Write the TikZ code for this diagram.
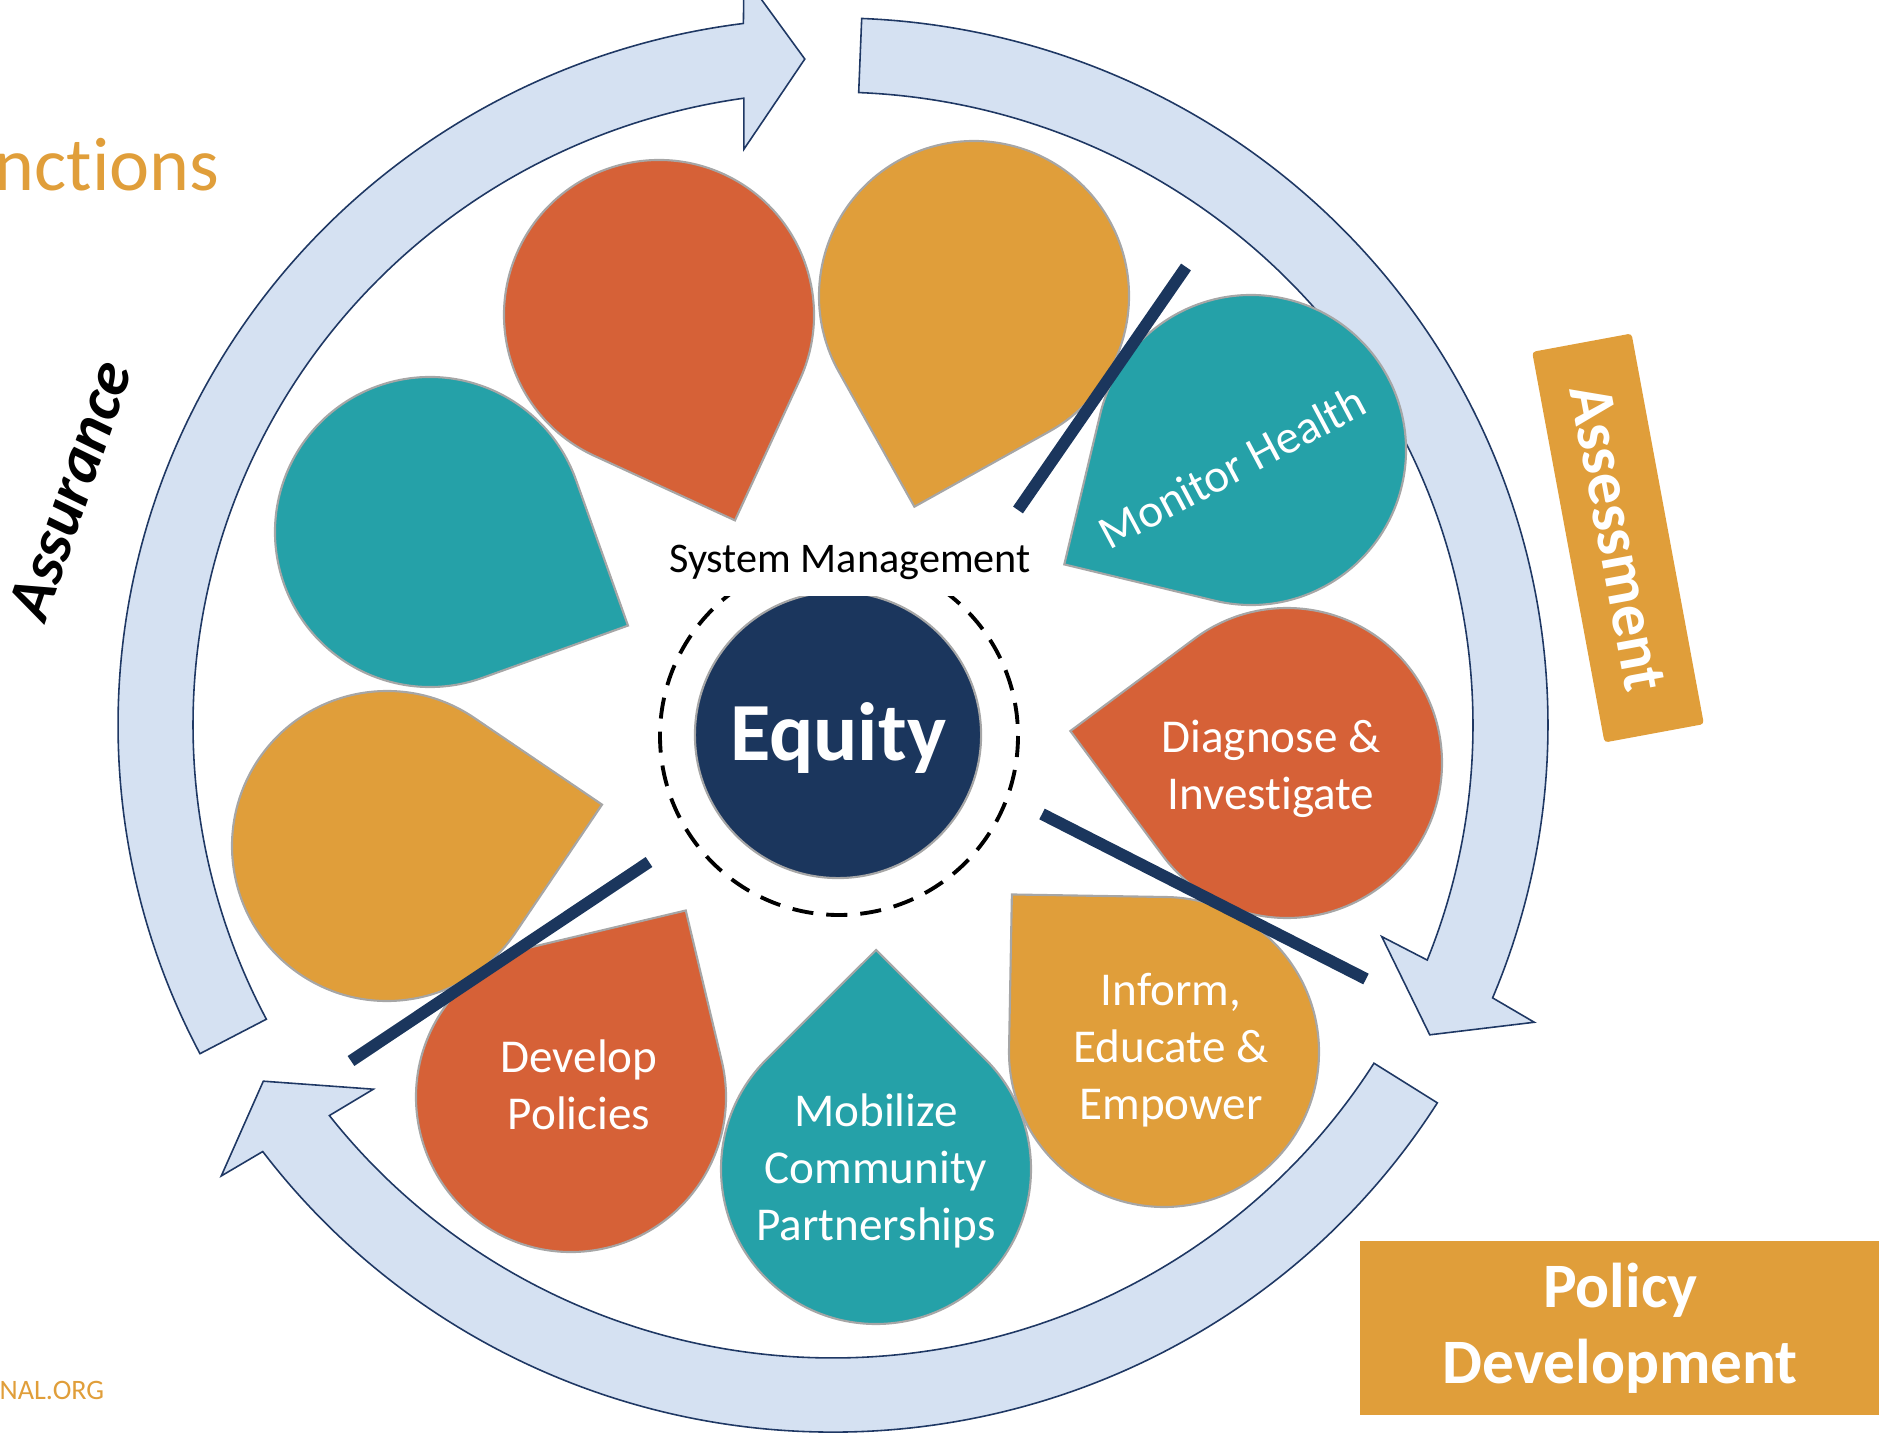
\documentclass[tikz,border=0pt]{standalone}
\usepackage{fontspec}
\setmainfont{Carlito}[Ligatures=NoCommon]
\usetikzlibrary{calc}

\definecolor{rust}{RGB}{214,97,55}
\definecolor{mustard}{RGB}{224,158,58}
\definecolor{tealish}{RGB}{37,161,168}
\definecolor{navy}{RGB}{27,54,93}
\definecolor{ringfill}{RGB}{213,225,242}
\definecolor{ringline}{RGB}{31,56,100}
\definecolor{rimgray}{RGB}{166,166,166}

\tikzset{
	petal/.style={draw=rimgray, line width=0.6pt},
	petaltext/.style={text=white, align=center, font=\fontsize{13.4}{16.2}\selectfont},
	ringarrow/.style={fill=ringfill, draw=ringline, line width=0.45pt, line join=miter},
	divider/.style={draw=navy, line width=3.4pt},
	banner/.style={fill=mustard, text=white, align=center, inner sep=0pt,
		font=\bfseries\fontsize{18}{21.6}\selectfont},
}

% teardrop: name, centre x, centre y, angle of the tip, colour
\newcommand{\drop}[5]{%
	\coordinate (#1) at (#2,#3);
	\filldraw[petal, fill=#5] ($(#1)+(#4-45:155)$) -- ($(#1)+(#4:219)$)
	-- ($(#1)+(#4+45:155)$) arc[start angle=#4+45, end angle=#4+315, radius=155] -- cycle;
}

% ring arrow: tail, outer base, inner base, outer barb, inner barb, tip
\newcommand{\ringarrow}[6]{%
	\filldraw[ringarrow] (#1:715) arc[start angle=#1, end angle=#2, radius=715]
	-- (#4:763) -- (#6:674) -- (#5:589) -- (#3:640)
	arc[start angle=#3, end angle=#1, radius=640] -- cycle;
}

\begin{document}
\begin{tikzpicture}[x=0.01cm, y=-0.01cm]
		\useasboundingbox (0,0) rectangle (1879,1440);
		\clip (0,0) rectangle (1879,1440);
		
		% slide leftovers
		\node[anchor=base west, inner sep=0pt, text=mustard, font=\fontsize{21.6}{26}\selectfont]
		(title) at (-6,191) {nctions};
		\node[anchor=base west, inner sep=0pt, text=mustard, font=\fontsize{8}{10}\selectfont]
		(web) at (-1,1399) {NAL.ORG};
		
		% ring of arrows
		\begin{scope}[shift={(833,725)}, yscale=0.989]
			\coordinate (ring) at (0,0);
			\ringarrow{152.3}{262.8}{262.0}{263.3}{261.3}{267.6}
			\ringarrow{-87.7}{22.7}{21.8}{23.2}{21.3}{27.7}
			\ringarrow{32.3}{142.9}{141.9}{143.3}{141.3}{147.7}
		\end{scope}
		
		% group labels
		\node[rotate=71, font=\bfseries\itshape\fontsize{18}{21}\selectfont] (assure) at (70,490) {Assurance};
		\node[banner, rotate=-79.5, minimum width=3.97cm, minimum height=1.01cm, rounded corners=1pt]
		(assess) at (1618,538) {Assessment};
		\node[banner, anchor=west, minimum width=5.21cm, minimum height=1.74cm]
		(policy) at (1359,1328) {Policy\\Development};
		
		% petals
		\drop{dropA}{659}{315}{69.7}{rust}
		\drop{dropB}{974}{296}{105.8}{mustard}
		\drop{dropC}{1251}{450}{148.5}{tealish}
		\drop{dropD}{1287}{763}{188.4}{rust}
		\drop{dropE}{1164}{1052}{-134}{mustard}
		\drop{dropF}{876}{1169}{-90}{tealish}
		\drop{dropG}{571}{1097}{-58.4}{rust}
		\drop{dropH}{387}{846}{-10.9}{mustard}
		\drop{dropI}{430}{532}{25.3}{tealish}
		
		\node[petaltext, rotate=28] (monitor) at (1232,467) {Monitor Health};
		\node[petaltext] (diagnose) at (1271,769) {Diagnose \&\\Investigate};
		\node[petaltext] (inform) at (1171,1050) {Inform,\\Educate \&\\Empower};
		\node[petaltext] (mobilize) at (876,1171) {Mobilize\\Community\\Partnerships};
		\node[petaltext] (develop) at (579,1085) {Develop\\Policies};
		
		% hub
		\draw[black, line width=1.1pt, dash pattern=on 6pt off 3.7pt] (839,736) circle[radius=179];
		\node[circle, fill=navy, draw=rimgray, line width=0.6pt, minimum size=2.86cm, inner sep=0pt]
		(hub) at (838,735) {};
		\node[fill=white, anchor=base, inner xsep=4pt, inner ysep=4.4pt, font=\fontsize{12}{14.4}\selectfont]
		(sysmgmt) at (850,573) {System Management};
		\node[anchor=base, text=white, font=\bfseries\fontsize{23.5}{28}\selectfont]
		(equity) at (838,761) {Equity};
		
		% dividers
		\coordinate (cutA1) at (1018,510);
		\coordinate (cutA2) at (1186,267);
		\coordinate (cutB1) at (1042,814);
		\coordinate (cutB2) at (1366,979);
		\coordinate (cutC1) at (649,862);
		\coordinate (cutC2) at (351,1061);
		\draw[divider] (cutA1) -- (cutA2);
		\draw[divider] (cutB1) -- (cutB2);
		\draw[divider] (cutC1) -- (cutC2);
		
	\end{tikzpicture}
\end{document}
